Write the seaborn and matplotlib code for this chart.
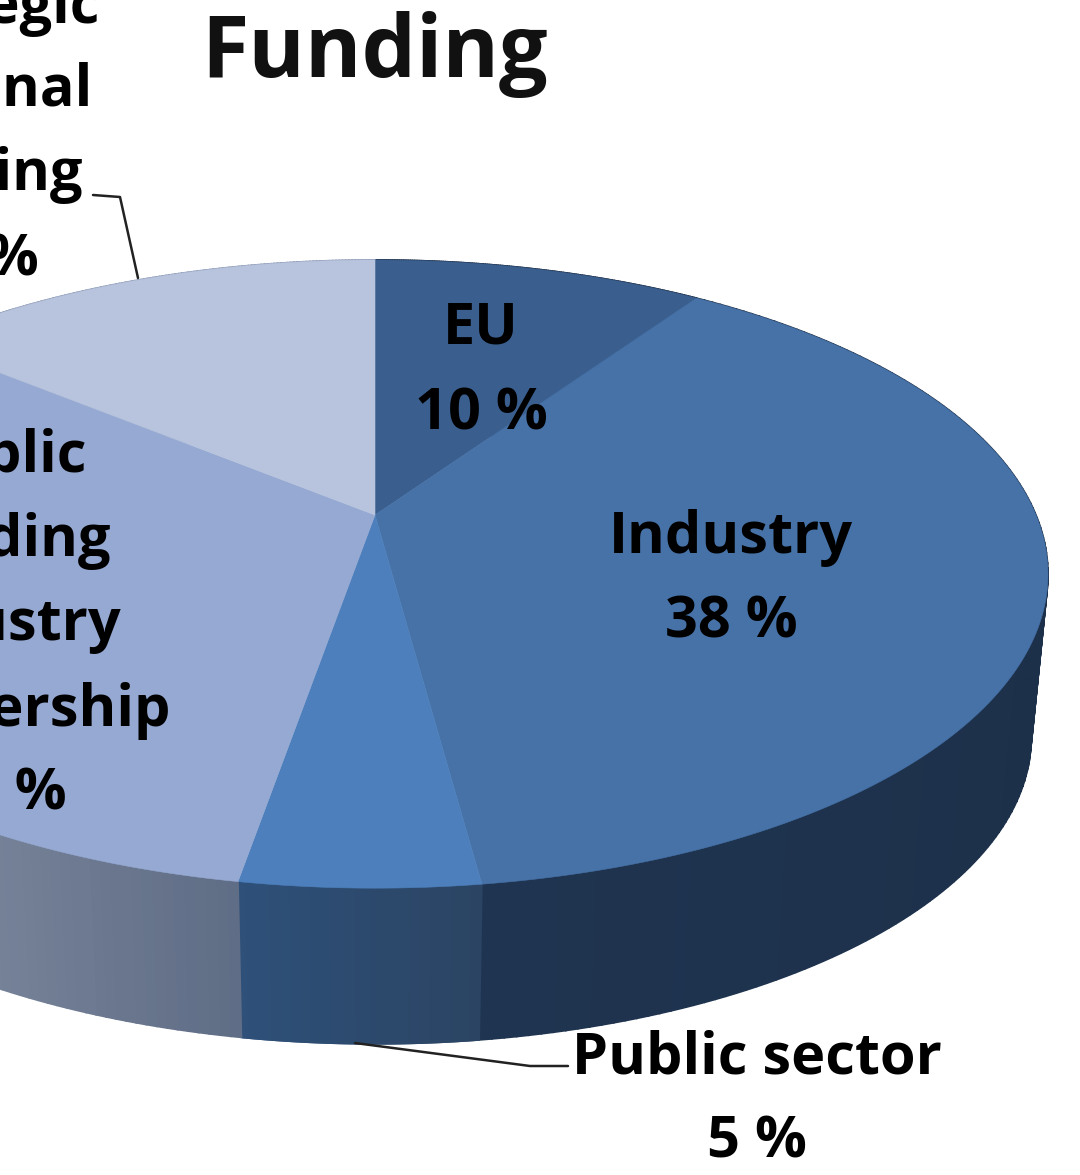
import numpy as np
import seaborn as sns
import matplotlib.pyplot as plt

# slices run clockwise from 12 o'clock, shares
categories = ["EU", "Industry", "Public sector", "Public funding industry partnership", "Strategic national funding"]
shares = [9.5, 38.4, 4.8, 33.3, 14]
top_colors = ["#3a5f8e", "#4672a8", "#4c7fbb", "#95a9d2", "#b8c4dd"]
wall_colors = [("#1c2e48", "#1c2e48"), ("#1a2b42", "#1f3450"), ("#2b4463", "#2e5079"),
               ("#5f6d86", "#f0f2f8"), ("#8a98b4", "#8a98b4")]

label_lines = [["EU", "10 %"], ["Industry", "38 %"], ["Public sector", "5 %"],
               ["Public", "funding", "industry", "partnership", "33 %"],
               ["Strategic", "national", "funding", "14 %"]]
label_x = [481, 731, 757, 0, -28]
label_y = [[329, 414], [538, 623], [1058, 1143], [456, 541, 625, 711, 795], [8, 91, 175, 260]]

sns.set_theme(style="white")
plt.rcParams['font.family'] = ['Open Sans', 'DejaVu Sans']

CX, CY = 375, 515
A, B, K = 661, 303, 0.188
WALL_DY, WALL_SCALE = 165, 0.975


def project(theta, radius=1.0, scale=1.0, dy=0.0):
    """Tilted disc seen in perspective, theta clockwise from the top"""
    x = radius * np.sin(theta)
    y = radius * np.cos(theta)
    d = 1 + K * y
    return CX + scale * A * x / d, CY + dy - scale * B * y / d


fig, ax = plt.subplots(figsize=(10.8, 11.75), dpi=100)
fig.subplots_adjust(0, 0, 1, 1)
ax.set_xlim(0, 1080)
ax.set_ylim(1175, 0)
ax.axis("off")

edges = np.deg2rad(np.cumsum([0] + shares) * 3.6)

# side wall, split in strips for the shading
for i in range(len(shares)):
    n = 150
    th = np.linspace(edges[i], edges[i + 1], n + 1)
    pal = sns.blend_palette(wall_colors[i], n)
    for j in range(n):
        t = np.linspace(th[j], th[j + 1], 3)
        x1, y1 = project(t)
        x2, y2 = project(t[::-1], scale=WALL_SCALE, dy=WALL_DY)
        ax.fill(np.r_[x1, x2], np.r_[y1, y2], color=pal[j], lw=1.2, zorder=1)

# top face
for i in range(len(shares)):
    t = np.linspace(edges[i], edges[i + 1], 200)
    x, y = project(t)
    ax.fill(np.r_[CX, x], np.r_[CY, y], color=top_colors[i], lw=0.4, zorder=2)

for lines, lx, ys in zip(label_lines, label_x, label_y):
    for line, ly in zip(lines, ys):
        ax.text(lx, ly, line, ha="center", va="center", fontsize=41.5, fontweight="bold",
                color="black", zorder=4, clip_on=False)

ax.text(375, 55, "Funding", ha="center", va="center", fontsize=62, fontweight="bold", color="#111111", zorder=4)

# leader lines
ax.plot([93, 120, 138], [195, 197, 278], color="#222222", lw=1.8, zorder=3)
ax.plot([355, 530, 568], [1043, 1066, 1066], color="#222222", lw=1.8, zorder=3)

fig.savefig("out.png", dpi=100)
